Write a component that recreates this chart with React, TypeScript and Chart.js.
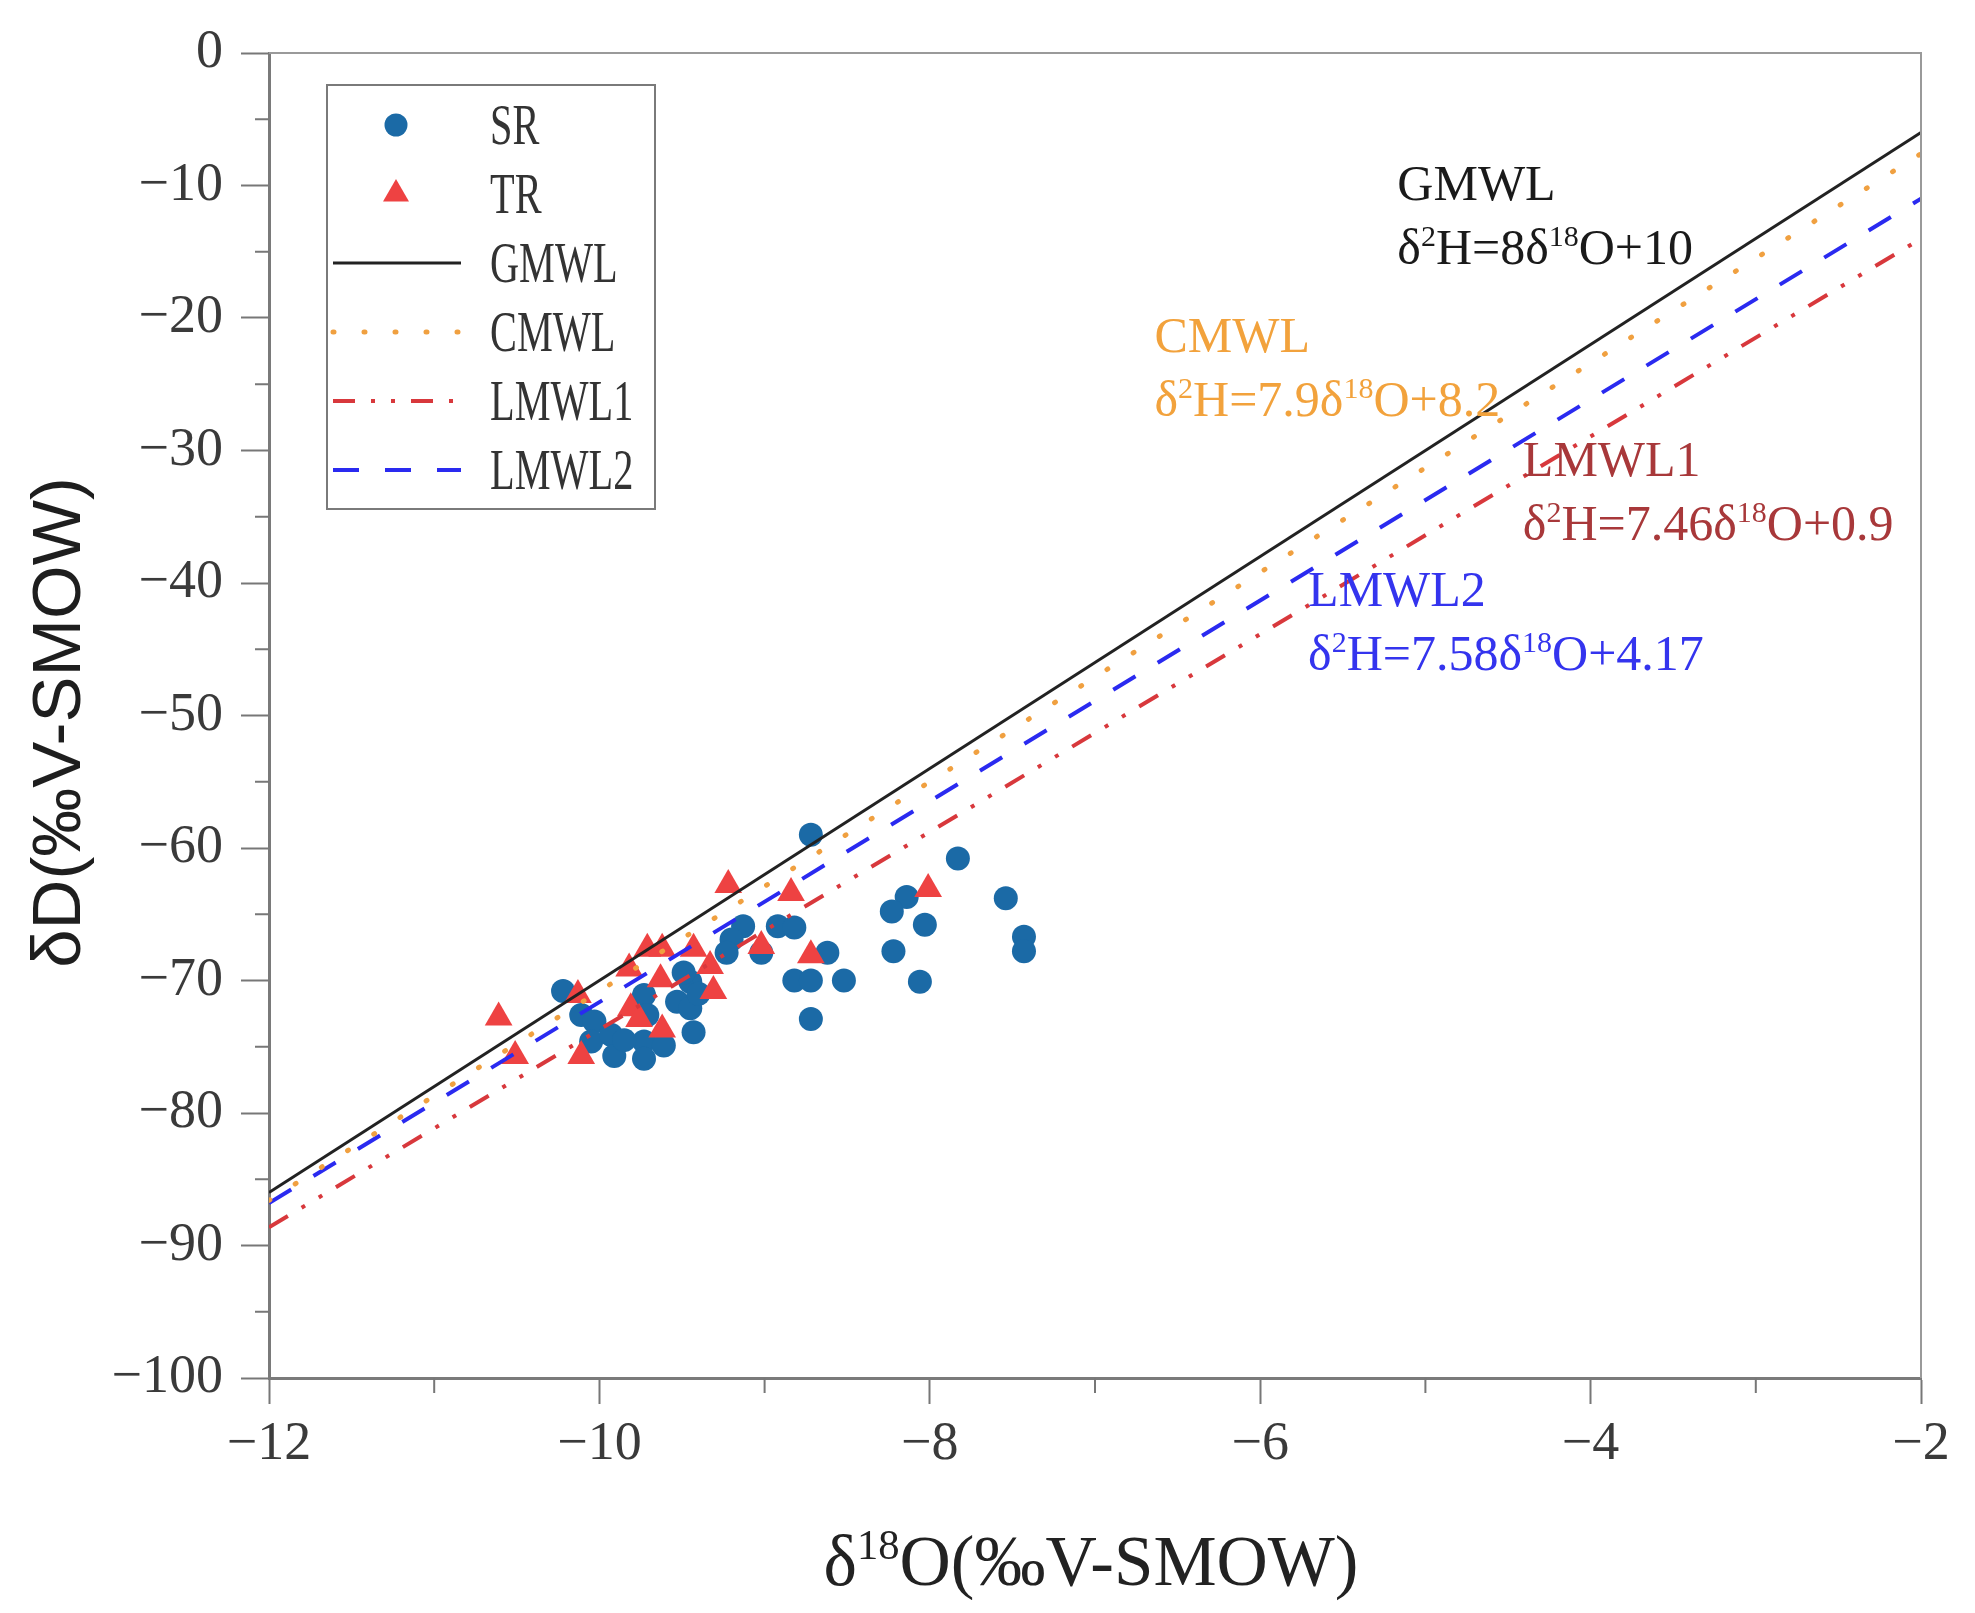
import React, { useEffect, useRef } from 'react';
import { Chart, registerables } from 'chart.js';

Chart.register(...registerables);

// ---- data ----
const srX = [-8.72, -7.83, -7.54, -7.43, -7.43, -8.14, -8.23, -8.03, -8.22, -8.06, -9.13, -9.2, -9.23, -8.92, -8.82, -9.02, -8.62, -8.82, -8.72, -8.52, -8.72, -10.22, -10.11, -10.03, -10.05, -9.93, -9.91, -9.73, -9.71, -9.73, -9.73, -9.61, -9.53, -9.45, -9.45, -9.43, -9.49, -9.4, -9.85];
const srY = [-59.0, -60.8, -63.8, -66.7, -67.8, -63.7, -64.8, -65.8, -67.8, -70.1, -65.9, -66.9, -67.9, -65.9, -66.0, -67.9, -67.9, -70.0, -70.0, -70.0, -72.9, -70.8, -72.6, -73.1, -74.6, -74.1, -75.7, -71.1, -72.6, -74.6, -75.9, -74.9, -71.6, -70.1, -72.1, -73.9, -69.4, -71.0, -74.5];
const trX = [-9.22, -8.84, -8.01, -10.61, -10.51, -10.11, -10.13, -9.81, -9.82, -9.71, -9.62, -9.63, -9.62, -9.43, -9.33, -9.31, -9.02, -8.72, -9.76];
const trY = [-62.8, -63.4, -63.1, -72.8, -75.7, -75.7, -71.1, -72.1, -69.1, -67.6, -67.6, -69.9, -73.7, -67.6, -68.9, -70.8, -67.4, -68.1, -72.9];

const lineX = [-12, -2];
const gmwlY = [-86, -6];
const cmwlY = [-86.6, -7.6];
const lmwl1Y = [-88.62, -14.02];
const lmwl2Y = [-86.79, -11.0];

const xTicks = [-12, -10, -8, -6, -4, -2];
const xTickLabels = ['−12', '−10', '−8', '−6', '−4', '−2'];
const xMinorTicks = [-11, -9, -7, -5, -3];
const yTicks = [-100, -90, -80, -70, -60, -50, -40, -30, -20, -10, 0];
const yTickLabels = ['−100', '−90', '−80', '−70', '−60', '−50', '−40', '−30', '−20', '−10', '0'];
const yMinorTicks = [-95, -85, -75, -65, -55, -45, -35, -25, -15, -5];

const annotNames = ['GMWL', 'CMWL', 'LMWL1', 'LMWL2'];
const annotEqs = ['δ^{2}H=8δ^{18}O+10', 'δ^{2}H=7.9δ^{18}O+8.2', 'δ^{2}H=7.46δ^{18}O+0.9', 'δ^{2}H=7.58δ^{18}O+4.17'];
const annotX = [-5.17, -6.64, -4.41, -5.71];
const annotY = [-11.1, -22.6, -31.9, -41.7];
const annotColors = ['#1a1a1a', '#f2a23c', '#a8383a', '#3434ee'];

const xTitle = 'δ^{18}O(‰V-SMOW)';
const yTitle = 'δD(‰V-SMOW)';

// ---- helpers ----
type Seg = { t: string; sup: boolean };
function parseRich(s: string): Seg[] {
  const out: Seg[] = [];
  const re = /\^\{([^}]*)\}/g;
  let last = 0;
  let m: RegExpExecArray | null;
  while ((m = re.exec(s))) {
    if (m.index > last) out.push({ t: s.slice(last, m.index), sup: false });
    out.push({ t: m[1], sup: true });
    last = re.lastIndex;
  }
  if (last < s.length) out.push({ t: s.slice(last), sup: false });
  return out;
}

function drawRich(ctx: CanvasRenderingContext2D, s: string, x: number, y: number, size: number, family: string, color: string, sx = 1, align: 'left' | 'center' = 'left') {
  const segs = parseRich(s);
  ctx.save();
  ctx.translate(x, y);
  ctx.scale(sx, 1);
  ctx.fillStyle = color;
  ctx.textBaseline = 'alphabetic';
  ctx.textAlign = 'left';
  let total = 0;
  const widths: number[] = [];
  for (const sg of segs) {
    ctx.font = `${sg.sup ? size * 0.6 : size}px ${family}`;
    const w = ctx.measureText(sg.t).width;
    widths.push(w);
    total += w;
  }
  let cx = align === 'center' ? -total / 2 : 0;
  segs.forEach((sg, i) => {
    ctx.font = `${sg.sup ? size * 0.6 : size}px ${family}`;
    ctx.fillText(sg.t, cx, sg.sup ? -size * 0.36 : 0);
    cx += widths[i];
  });
  ctx.restore();
}

const SERIF = '"Liberation Serif", "Times New Roman", serif';
const SANS = '"Liberation Sans", Arial, sans-serif';

const decorPlugin = {
  id: 'decor',
  afterDraw(chart: any) {
    const ctx: CanvasRenderingContext2D = chart.ctx;
    const ca = chart.chartArea;
    const xs = chart.scales.x;
    const ys = chart.scales.y;
    ctx.save();
    // frame top & right
    ctx.strokeStyle = '#9a9a9a';
    ctx.lineWidth = 2;
    ctx.beginPath();
    ctx.moveTo(ca.left, ca.top);
    ctx.lineTo(ca.right, ca.top);
    ctx.lineTo(ca.right, ca.bottom);
    ctx.stroke();
    // minor ticks
    ctx.strokeStyle = '#777';
    ctx.lineWidth = 2;
    ctx.beginPath();
    for (const v of xMinorTicks) {
      const px = xs.getPixelForValue(v);
      ctx.moveTo(px, ca.bottom);
      ctx.lineTo(px, ca.bottom + 15);
    }
    for (const v of yMinorTicks) {
      const py = ys.getPixelForValue(v);
      ctx.moveTo(ca.left - 14, py);
      ctx.lineTo(ca.left, py);
    }
    ctx.stroke();

    // annotations
    annotNames.forEach((nm, i) => {
      const px = xs.getPixelForValue(annotX[i]);
      const py = ys.getPixelForValue(annotY[i]);
      drawRich(ctx, nm, px, py, 50, SERIF, annotColors[i]);
      drawRich(ctx, annotEqs[i], px, py + 64, 50, SERIF, annotColors[i]);
    });

    // legend
    const lx = ca.left + 58;
    const ly = ca.top + 32;
    const lw = 328;
    const lh = 424;
    ctx.fillStyle = '#ffffff';
    ctx.fillRect(lx, ly, lw, lh);
    ctx.strokeStyle = '#7a7a7a';
    ctx.lineWidth = 2;
    ctx.setLineDash([]);
    ctx.strokeRect(lx, ly, lw, lh);
    chart.data.datasets.forEach((ds: any, i: number) => {
      const cy = ly + 40 + i * 69;
      const sxc = lx + 69;
      ctx.save();
      if (ds.type === 'line') {
        ctx.strokeStyle = ds.borderColor;
        ctx.lineWidth = ds.borderWidth;
        ctx.lineCap = ds.borderCapStyle || 'butt';
        ctx.setLineDash(ds.borderDash || []);
        ctx.beginPath();
        ctx.moveTo(lx + 6, cy);
        ctx.lineTo(lx + 134, cy);
        ctx.stroke();
      } else {
        ctx.fillStyle = ds.backgroundColor;
        ctx.beginPath();
        if (ds.pointStyle === 'triangle') {
          const r = 15;
          ctx.moveTo(sxc, cy - r);
          ctx.lineTo(sxc + r * 0.866, cy + r * 0.5);
          ctx.lineTo(sxc - r * 0.866, cy + r * 0.5);
          ctx.closePath();
        } else {
          ctx.arc(sxc, cy, 11.5, 0, Math.PI * 2);
        }
        ctx.fill();
      }
      ctx.restore();
      drawRich(ctx, ds.label, lx + 163, cy + 19, 56, SERIF, '#333', 0.72);
    });

    // axis titles
    drawRich(ctx, xTitle, (ca.left + ca.right) / 2 - 4, ca.bottom + 207, 71, SERIF, '#222', 1, 'center');
    ctx.save();
    ctx.translate(ca.left - 208, (ca.top + ca.bottom) / 2 + 7);
    ctx.rotate(-Math.PI / 2);
    ctx.fillStyle = '#1e1e1e';
    ctx.font = `69px ${SANS}`;
    ctx.textAlign = 'center';
    ctx.textBaseline = 'middle';
    ctx.fillText(yTitle, 0, 0);
    ctx.restore();

    ctx.restore();
  },
};

export default function App() {
  const ref = useRef<HTMLCanvasElement | null>(null);
  useEffect(() => {
    document.body.style.margin = '0';
    const canvas = ref.current;
    if (!canvas) return;
    const pts = (xa: number[], ya: number[]) => xa.map((x, i) => ({ x, y: ya[i] }));
    const chart = new Chart(canvas, {
      type: 'scatter',
      data: {
        datasets: [
          { label: 'SR', data: pts(srX, srY), backgroundColor: '#1b6aa6', borderColor: '#1b6aa6', pointStyle: 'circle', pointRadius: 12, borderWidth: 0, order: 3 } as any,
          { label: 'TR', data: pts(trX, trY), backgroundColor: '#ee4242', borderColor: '#ee4242', pointStyle: 'triangle', pointRadius: 16, borderWidth: 0, order: 2 } as any,
          { type: 'line', label: 'GMWL', data: pts(lineX, gmwlY), borderColor: '#222222', borderWidth: 3, pointRadius: 0, showLine: true, fill: false, order: 1 } as any,
          { type: 'line', label: 'CMWL', data: pts(lineX, cmwlY), borderColor: '#f0a040', borderWidth: 5, borderDash: [1, 30], borderCapStyle: 'round', pointRadius: 0, showLine: true, fill: false, order: 1 } as any,
          { type: 'line', label: 'LMWL1', data: pts(lineX, lmwl1Y), borderColor: '#d8383c', borderWidth: 4, borderDash: [22, 16, 4, 16, 4, 16], pointRadius: 0, showLine: true, fill: false, order: 1 } as any,
          { type: 'line', label: 'LMWL2', data: pts(lineX, lmwl2Y), borderColor: '#2a2af0', borderWidth: 4, borderDash: [26, 26], pointRadius: 0, showLine: true, fill: false, order: 1 } as any,
        ],
      },
      options: {
        animation: false,
        responsive: false,
        devicePixelRatio: 1,
        layout: { padding: { left: 0, top: 53, right: 54, bottom: 0 } },
        plugins: { legend: { display: false }, tooltip: { enabled: false } },
        scales: {
          x: {
            type: 'linear',
            min: -12,
            max: -2,
            afterBuildTicks: (s: any) => { s.ticks = xTicks.map((v) => ({ value: v })); },
            afterFit: (s: any) => { s.height = 235; },
            ticks: {
              autoSkip: false,
              maxRotation: 0,
              padding: 8,
              color: '#3a3a3a',
              font: { family: SERIF, size: 54 },
              callback: (v: any) => xTickLabels[xTicks.indexOf(Number(v))] ?? '',
            },
            grid: { drawOnChartArea: false, drawTicks: true, tickLength: 26, tickColor: '#777', tickWidth: 2 },
            border: { color: '#7a7a7a', width: 3 },
          },
          y: {
            type: 'linear',
            min: -100,
            max: 0,
            afterBuildTicks: (s: any) => { s.ticks = yTicks.map((v) => ({ value: v })); },
            afterFit: (s: any) => { s.width = 269; },
            ticks: {
              autoSkip: false,
              padding: 18,
              color: '#3a3a3a',
              font: { family: SERIF, size: 54 },
              callback: (v: any) => yTickLabels[yTicks.indexOf(Number(v))] ?? '',
            },
            grid: { drawOnChartArea: false, drawTicks: true, tickLength: 28, tickColor: '#777', tickWidth: 2 },
            border: { color: '#7a7a7a', width: 3 },
          },
        },
      } as any,
      plugins: [decorPlugin],
    });
    return () => chart.destroy();
  }, []);
  return (
    <div style={{ width: 1975, height: 1613, background: '#fff' }}>
      <canvas ref={ref} width={1975} height={1613} style={{ display: 'block', width: 1975, height: 1613 }} />
    </div>
  );
}
